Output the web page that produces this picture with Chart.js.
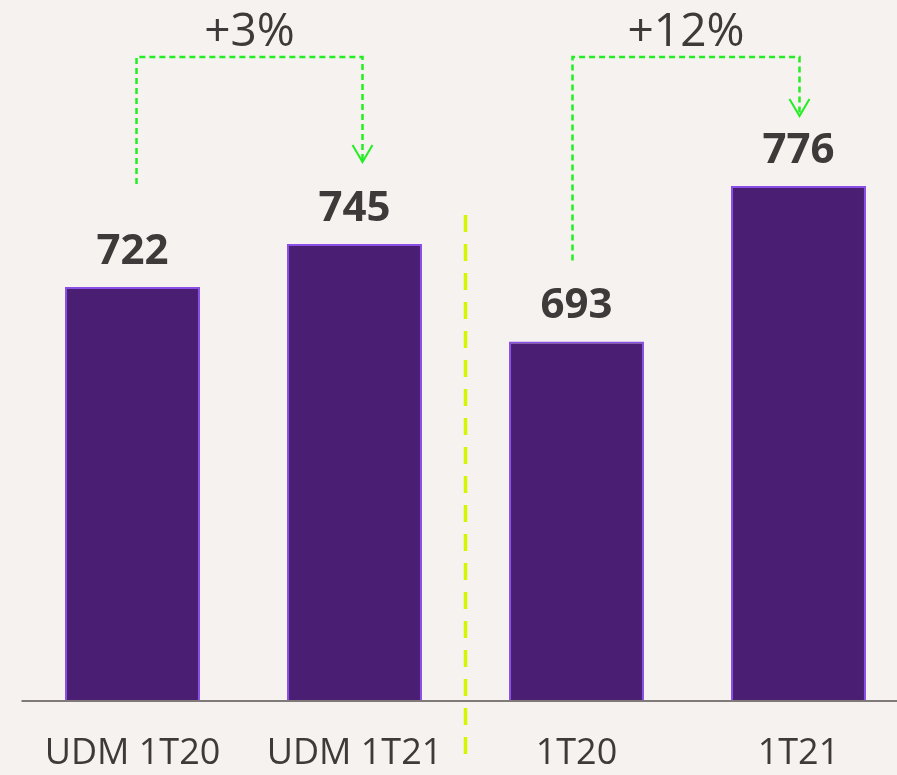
<!DOCTYPE html>
<html>
<head>
<meta charset="utf-8">
<script src="https://cdn.jsdelivr.net/npm/chart.js@4/dist/chart.umd.min.js"></script>
<style>
  html, body { margin: 0; padding: 0; background: #f5f2ef; overflow: hidden; }
  #wrap { width: 897px; height: 775px; overflow: hidden; }
</style>
</head>
<body>
<div id="wrap"><canvas id="chart" width="912" height="775"></canvas></div>
<script>
// Chart values
const categories = ["UDM 1T20", "UDM 1T21", "1T20", "1T21"];
const values = [722, 745, 693, 776];

// Growth arrows: from bar -> to bar, with their label
const changeFrom = [0, 2];
const changeTo = [1, 3];
const changeLabels = ["+3%", "+12%"];

const TEXT = "#3d3a39";
const GREEN = "#22ee22";

// Pixel tweaks for the arrows, one entry per arrow (style only)
const arrowStyle = [
    { dxFrom: 4, dxTo: 8, rise: 103, drop: 82 },
    { dxFrom: -4, dxTo: 1, rise: 81, drop: 70 }
];

const annotations = {
    id: "annotations",
    afterDatasetsDraw(chart) {
        const ctx = chart.ctx;
        const x = chart.scales.x;
        const y = chart.scales.y;
        const area = chart.chartArea;

        // baseline
        ctx.save();
        ctx.strokeStyle = "#7f7a78";
        ctx.lineWidth = 2;
        ctx.beginPath();
        ctx.moveTo(area.left, area.bottom + 1);
        ctx.lineTo(chart.width, area.bottom + 1);
        ctx.stroke();

        // value labels
        ctx.fillStyle = TEXT;
        ctx.font = "bold 42px 'Open Sans'";
        ctx.textAlign = "center";
        ctx.textBaseline = "alphabetic";
        values.forEach(function (v, i) {
            ctx.fillText(String(v), x.getPixelForValue(i), y.getPixelForValue(v) - 23);
        });

        // separator between the UDM group and the reported group
        const sepX = (x.getPixelForValue(1) + x.getPixelForValue(2)) / 2;
        ctx.strokeStyle = "#d6f500";
        ctx.lineWidth = 3.5;
        ctx.setLineDash([17, 12]);
        ctx.beginPath();
        ctx.moveTo(sepX, 215);
        ctx.lineTo(sepX, 760);
        ctx.stroke();

        // growth arrows
        const topY = 57;
        changeLabels.forEach(function (label, k) {
            const st = arrowStyle[k];
            const x1 = x.getPixelForValue(changeFrom[k]) + st.dxFrom;
            const x2 = x.getPixelForValue(changeTo[k]) + st.dxTo;
            const y1 = y.getPixelForValue(values[changeFrom[k]]) - st.rise;
            const y2 = y.getPixelForValue(values[changeTo[k]]) - st.drop;

            ctx.strokeStyle = GREEN;
            ctx.lineWidth = 2.5;
            ctx.setLineDash([6, 4]);
            ctx.beginPath();
            ctx.moveTo(x1, y1);
            ctx.lineTo(x1, topY);
            ctx.lineTo(x2, topY);
            ctx.lineTo(x2, y2);
            ctx.stroke();

            ctx.setLineDash([]);
            ctx.lineWidth = 2;
            ctx.beginPath();
            ctx.moveTo(x2 - 10, y2 - 17);
            ctx.lineTo(x2, y2);
            ctx.lineTo(x2 + 10, y2 - 17);
            ctx.stroke();

            ctx.fillStyle = TEXT;
            ctx.font = "46px 'Open Sans'";
            ctx.textBaseline = "alphabetic";
            ctx.fillText(label, (x1 + x2) / 2, 46);
        });
        ctx.restore();
    }
};

new Chart(document.getElementById("chart"), {
    type: "bar",
    data: {
        labels: categories,
        datasets: [{
            data: values,
            backgroundColor: "#4a1f73",
            borderColor: "#8a4fe6",
            borderWidth: 2,
            categoryPercentage: 1,
            barPercentage: 0.608
        }]
    },
    options: {
        responsive: false,
        animation: false,
        layout: { padding: { left: 21.5, right: 2.5, top: 46.5, bottom: 0 } },
        plugins: {
            legend: { display: false },
            tooltip: { enabled: false }
        },
        scales: {
            x: {
                grid: { display: false, drawTicks: false },
                border: { display: false },
                afterFit: function (scale) { scale.height = 75; },
                ticks: {
                    padding: 32,
                    color: TEXT,
                    font: { family: "'Open Sans'", size: 36 }
                }
            },
            y: {
                display: false,
                min: 501.5,
                max: 850.5
            }
        }
    },
    plugins: [annotations]
});
</script>
</body>
</html>
